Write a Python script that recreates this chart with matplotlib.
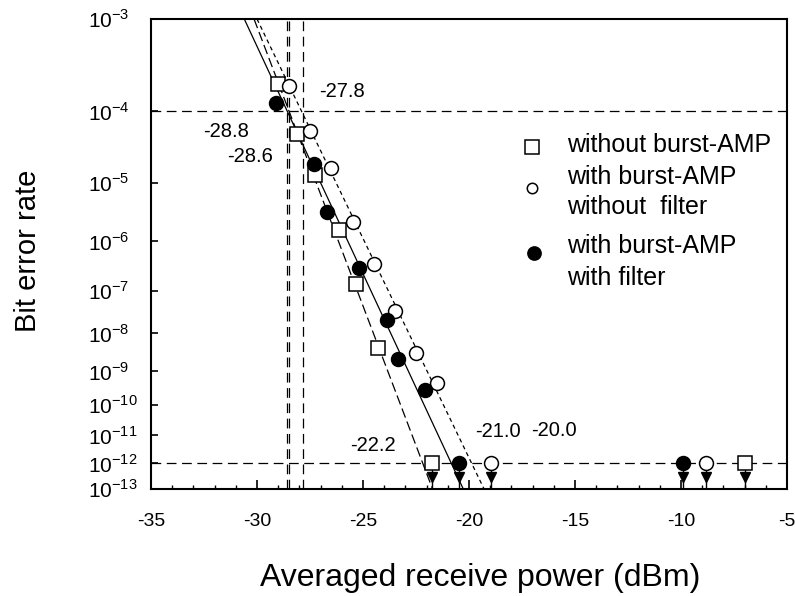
import numpy as np
import matplotlib
matplotlib.use('Agg')
import matplotlib.pyplot as plt
from matplotlib.ticker import FixedLocator, MultipleLocator, NullLocator

plt.rcParams['font.family'] = ['Liberation Sans', 'DejaVu Sans']
plt.rcParams['mathtext.fontset'] = 'custom'
plt.rcParams['mathtext.rm'] = 'Liberation Sans'
plt.rcParams['lines.scale_dashes'] = False
plt.rcParams['axes.unicode_minus'] = False

# without burst-AMP (squares)
sq_x = [-29.0, -28.1, -27.26, -26.12, -25.33, -24.31]
sq_ber = [2.1e-4, 5.1e-5, 1.3e-5, 1.6e-6, 1.4e-7, 4.3e-9]
# with burst-AMP, without filter (open circles)
oc_x = [-28.49, -27.5, -26.51, -25.46, -24.48, -23.48, -22.5, -21.52]
oc_ber = [2.0e-4, 5.6e-5, 1.7e-5, 2.2e-6, 3.6e-7, 3.5e-8, 3.2e-9, 4.6e-10]
# with burst-AMP, with filter (filled circles)
fc_x = [-29.12, -27.3, -26.72, -25.19, -23.85, -23.33, -22.08]
fc_ber = [1.26e-4, 1.9e-5, 3.3e-6, 3.0e-7, 2.1e-8, 2.2e-9, 2.9e-10]

# error free measurements (BER < 1e-12)
sq_free_x = [-21.76, -7.0]
oc_free_x = [-18.96, -8.84]
fc_free_x = [-20.46, -9.92]
free_ber = 1e-12
arrow_ber = 3e-13

# fitted lines, x at BER = 1e-3 and 1e-13
fit_ber = [1e-3, 1e-13]
sq_fit_x = [-30.14, -21.72]
oc_fit_x = [-30.0, -19.29]
fc_fit_x = [-30.6, -20.27]

# reference lines
vline_x = [-28.6, -28.49, -27.82]
hline_ber = [1e-4, 1e-12]

yticks = [10.0 ** -k for k in range(3, 14)]
ytick_labels = ['$10^{-%d}$' % k for k in range(3, 14)]

notes = ['-27.8', '-28.8', '-28.6', '-22.2', '-21.0', '-20.0']
note_pos = [(0.3011, 0.8468), (0.1179, 0.7596), (0.1557, 0.7085),
            (0.3483, 0.0915), (0.5456, 0.1234), (0.6329, 0.1255)]

legend_labels = [['without burst-AMP'],
                 ['with burst-AMP', 'without  filter'],
                 ['with burst-AMP', 'with filter']]


def fwd(y):
    with np.errstate(all='ignore'):
        return -np.log10(-np.log10(y))


def inv(t):
    with np.errstate(all='ignore'):
        return 10.0 ** (-(10.0 ** (-t)))


fig = plt.figure(figsize=(7.95, 5.96), dpi=100)
ax = fig.add_axes([151 / 795, 107 / 596, 636 / 795, 470 / 596])
ax.set_yscale('function', functions=(fwd, inv))
ax.set_xlim(-35, -5)
ax.set_ylim(1e-13, 1e-3)

dash_ref = (7, 4)
for x in vline_x:
    ax.axvline(x, color='black', lw=0.9, dashes=dash_ref, zorder=1)
for b in hline_ber:
    ax.axhline(b, color='black', lw=0.9, dashes=dash_ref, zorder=1)

ax.plot(sq_fit_x, fit_ber, color='black', lw=0.9, dashes=(7, 3), zorder=2)
ax.plot(fc_fit_x, fit_ber, color='black', lw=0.9, zorder=2)
ax.plot(oc_fit_x, fit_ber, color='black', lw=0.9, dashes=(3, 2.5), zorder=2)

# arrows under error free points
for xs in (sq_free_x, oc_free_x, fc_free_x):
    ax.vlines(xs, 1e-13, free_ber, color='black', lw=1.0, zorder=3)
    ax.plot(xs, [arrow_ber] * len(xs), 'v', color='black', ms=6.5, zorder=3)

mk = dict(linestyle='none', markeredgecolor='black', markeredgewidth=1.1, zorder=5)
ax.plot(sq_x + sq_free_x, sq_ber + [free_ber] * len(sq_free_x), 's',
        markerfacecolor='white', ms=10.5, **mk)
ax.plot(oc_x + oc_free_x, oc_ber + [free_ber] * len(oc_free_x), 'o',
        markerfacecolor='white', ms=10, **mk)
ax.plot(fc_x + fc_free_x, fc_ber + [free_ber] * len(fc_free_x), 'o',
        markerfacecolor='black', ms=10, **mk)

for s, (px, py) in zip(notes, note_pos):
    ax.text(px, py, s, transform=ax.transAxes, ha='center', va='center', fontsize=14.5)

# legend drawn by hand
leg_x_mark = 0.599
leg_x_text = 0.654
ax.plot([leg_x_mark], [0.727], 's', transform=ax.transAxes, ms=10.5,
        mfc='white', mec='black', mew=1.1, clip_on=False)
ax.plot([leg_x_mark], [0.640], 'o', transform=ax.transAxes, ms=7.5,
        mfc='white', mec='black', mew=1.1, clip_on=False)
ax.plot([leg_x_mark + 0.003], [0.503], 'o', transform=ax.transAxes, ms=9.5,
        mfc='black', mec='black', mew=1.1, clip_on=False)
line_y = [[0.732], [0.664, 0.601], [0.516, 0.449]]
for lines, ys in zip(legend_labels, line_y):
    for s, y in zip(lines, ys):
        ax.text(leg_x_text, y, s, transform=ax.transAxes, va='center', ha='left', fontsize=18)

# axes styling
for sp in ax.spines.values():
    sp.set_linewidth(1.5)
ax.xaxis.set_major_locator(MultipleLocator(5))
ax.xaxis.set_minor_locator(MultipleLocator(1))
ax.yaxis.set_major_locator(FixedLocator(yticks))
ax.yaxis.set_minor_locator(NullLocator())
ax.set_yticklabels(ytick_labels)
ax.tick_params(axis='x', which='major', direction='in', length=6.5, width=1.2,
               labelsize=14, pad=17, top=False)
ax.tick_params(axis='x', which='minor', direction='in', length=3.2, width=1.0, top=False)
ax.tick_params(axis='y', which='major', direction='in', length=5, width=1.2,
               labelsize=15, pad=45, right=False)
for lab in ax.get_yticklabels():
    lab.set_horizontalalignment('left')

fig.text(480 / 795, 1 - 578 / 596, 'Averaged receive power (dBm)', ha='center',
         va='center', fontsize=23)
fig.text(28 / 795, 1 - 251 / 596, 'Bit error rate', ha='center', va='center',
         rotation=90, fontsize=21)

fig.savefig('out.png', dpi=100)
